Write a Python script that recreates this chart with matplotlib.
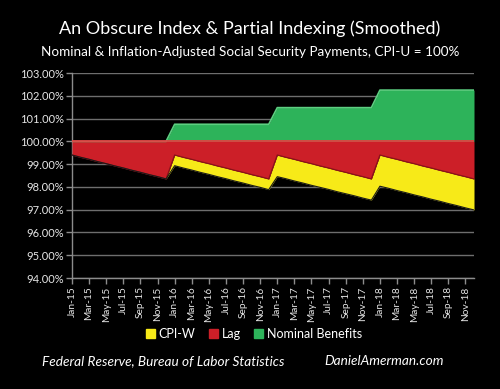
import matplotlib
matplotlib.use("Agg")
import matplotlib.pyplot as plt
from matplotlib.patches import Rectangle
import numpy as np

plt.rcParams['font.family'] = ['Lato', 'DejaVu Sans']

months = ['Jan', 'Feb', 'Mar', 'Apr', 'May', 'Jun', 'Jul', 'Aug', 'Sep', 'Oct', 'Nov', 'Dec']
years = ['15', '16', '17', '18']
dates = [f"{m}-{y}" for y in years for m in months]

# Top of the yellow band / bottom of the red band (CPI-W adjusted level, %)
cpiw_level = [
    99.40, 99.30, 99.21, 99.11, 99.02, 98.92, 98.83, 98.73, 98.64, 98.54, 98.45, 98.35,
    99.40, 99.30, 99.21, 99.11, 99.02, 98.92, 98.83, 98.73, 98.64, 98.54, 98.45, 98.35,
    99.40, 99.30, 99.21, 99.11, 99.02, 98.92, 98.83, 98.73, 98.64, 98.54, 98.45, 98.35,
    99.40, 99.30, 99.21, 99.11, 99.02, 98.92, 98.83, 98.73, 98.64, 98.54, 98.45, 98.35,
]
# Bottom of the yellow band (inflation-adjusted payments, %)
real_level = [
    99.40, 99.30, 99.21, 99.11, 99.02, 98.92, 98.83, 98.73, 98.64, 98.54, 98.45, 98.35,
    98.93, 98.83, 98.74, 98.64, 98.55, 98.45, 98.36, 98.26, 98.17, 98.07, 97.98, 97.88,
    98.45, 98.36, 98.26, 98.17, 98.07, 97.98, 97.89, 97.79, 97.70, 97.61, 97.51, 97.42,
    98.03, 97.94, 97.84, 97.75, 97.65, 97.56, 97.46, 97.37, 97.27, 97.18, 97.08, 96.99,
]
# CPI-U reference level (%)
cpiu_level = [100.0] * 48
# Nominal benefits (%)
nominal_level = [
    100.00, 100.00, 100.00, 100.00, 100.00, 100.00, 100.00, 100.00, 100.00, 100.00, 100.00, 100.00,
    100.75, 100.75, 100.75, 100.75, 100.75, 100.75, 100.75, 100.75, 100.75, 100.75, 100.75, 100.75,
    101.48, 101.48, 101.48, 101.48, 101.48, 101.48, 101.48, 101.48, 101.48, 101.48, 101.48, 101.48,
    102.25, 102.25, 102.25, 102.25, 102.25, 102.25, 102.25, 102.25, 102.25, 102.25, 102.25, 102.25,
]
y_ticks = [94, 95, 96, 97, 98, 99, 100, 101, 102, 103]
series_names = ['CPI-W', 'Lag', 'Nominal Benefits']

YELLOW = '#f7ea18'
RED = '#cc1f28'
GREEN = '#2db35a'

fig = plt.figure(figsize=(5.0, 3.89), dpi=100, facecolor='black')
ax = fig.add_axes([0.144, 0.2853, 0.804, 0.527])
ax.set_facecolor('black')

x = np.arange(len(dates))
ax.fill_between(x, real_level, cpiw_level, color=YELLOW, lw=0, zorder=3)
ax.fill_between(x, cpiw_level, cpiu_level, color=RED, lw=0, zorder=3)
ax.fill_between(x, cpiu_level, nominal_level, color=GREEN, lw=0, zorder=3)
# bevel highlights
ax.plot(x, nominal_level, color='#5ccf80', lw=1.2, zorder=4)
ax.plot(x, cpiu_level, color='#ee3a40', lw=1.2, zorder=4)
ax.plot(x, cpiw_level, color='#8a1218', lw=0.9, zorder=4)
ax.plot(x, real_level, color='#1a1a1a', lw=0.8, zorder=4)

ax.set_xlim(0, len(dates) - 1)
ax.set_ylim(94, 103)
ax.set_yticks(y_ticks)
ax.set_yticklabels([f"{v:.2f}%" for v in y_ticks])
ax.set_xticks(x[::2])
ax.set_xticklabels(dates[::2], rotation=90)
ax.grid(axis='y', color='#6e6e6e', lw=1.0, zorder=1)
for s in ['top', 'right']:
    ax.spines[s].set_visible(False)
for s in ['left', 'bottom']:
    ax.spines[s].set_color('#8c8c8c')
    ax.spines[s].set_linewidth(1.0)
ax.tick_params(axis='both', colors='#8c8c8c', length=4, width=1.0,
               labelcolor='#e6e6e6', pad=2)
ax.tick_params(axis='y', labelsize=8)
ax.tick_params(axis='x', labelsize=7.3)

fig.text(0.5, 0.925, 'An Obscure Index & Partial Indexing (Smoothed)', ha='center', va='center',
         color='white', fontsize=13)
fig.text(0.5, 0.866, 'Nominal & Inflation-Adjusted Social Security Payments, CPI-U = 100%',
         ha='center', va='center', color='white', fontsize=9.7)

# legend
handles = [Rectangle((0, 0), 1, 1, color=c) for c in (YELLOW, RED, GREEN)]
leg = fig.legend(handles, series_names, loc='center', bbox_to_anchor=(0.508, 0.141), ncol=3,
                 frameon=False, fontsize=9, labelcolor='white', handlelength=0.7,
                 handleheight=0.7, handletextpad=0.3, columnspacing=1.1)

fig.text(0.327, 0.072, 'Federal Reserve, Bureau of Labor Statistics', ha='center', va='center',
         color='white', fontsize=9.8, style='italic')
fig.text(0.768, 0.072, 'DanielAmerman.com', ha='center', va='center',
         color='white', fontsize=9.8, style='italic')

fig.savefig('out.png', dpi=100, facecolor='black')
